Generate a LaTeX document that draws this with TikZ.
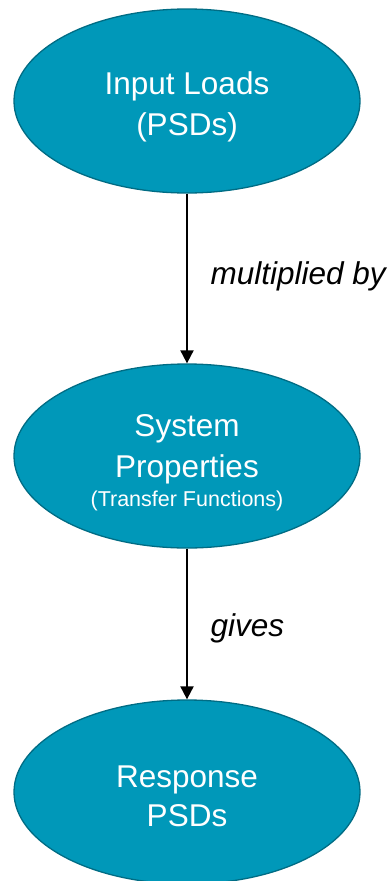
\documentclass[tikz,border=0pt]{standalone}
\usepackage{fontspec}
\setmainfont{Liberation Sans}
\usepackage{tikz}
\usetikzlibrary{shapes.geometric, arrows.meta}
\definecolor{psdfill}{RGB}{0,152,185}
\definecolor{psdline}{RGB}{0,108,132}
\newcommand\lift[1]{\rule{0pt}{#1}}

\begin{document}
\begin{tikzpicture}[>={Triangle[length=13pt,width=13pt]},x=1pt,y=-1pt,
 blob/.style={ellipse,draw=psdline,line width=1.3pt,fill=psdfill,
   minimum width=346pt,minimum height=184pt,inner sep=0pt,
   text=white,align=center,font=\fontsize{31.5}{41}\selectfont},
 word/.style={anchor=base west,font=\fontsize{31.5}{38}\selectfont\itshape}]
\useasboundingbox (0,0) rectangle (391,881);
\node[blob] (in) at (187,101) {\lift{34pt}Input Loads\\(PSDs)};
\node[blob] (sys) at (187,456) {\lift{36pt}System\\Properties\\[-12pt]{\fontsize{21.5}{26}\selectfont(Transfer Functions)}};
\node[blob] (out) at (187,792) {\lift{30pt}Response\\[-2pt]PSDs};
\node[word] (mul) at (207,284) {multiplied by};
\node[word] (giv) at (207,636) {gives};
\draw[->,line width=2pt] (in) edge (sys)
          (sys) edge (out)
;
\end{tikzpicture}
\end{document}
